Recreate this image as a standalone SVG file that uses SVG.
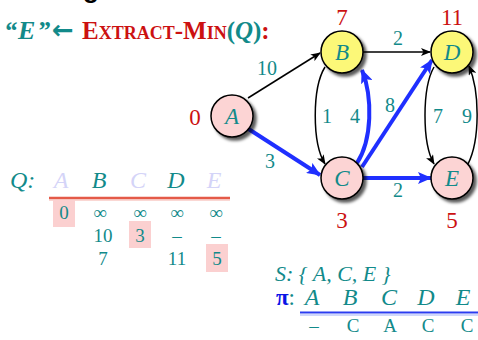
<svg xmlns="http://www.w3.org/2000/svg" width="478" height="340" viewBox="0 0 478 340">
<defs>
<filter id="sh" x="-30%" y="-30%" width="170%" height="170%">
<feDropShadow dx="3" dy="3" stdDeviation="1.6" flood-color="#000" flood-opacity="0.65"/>
</filter>
<marker id="ak" markerUnits="userSpaceOnUse" markerWidth="10" markerHeight="8" refX="9" refY="4" orient="auto">
<path d="M0,0 L10,4 L0,8 L2.5,4 Z" fill="#000"/>
</marker>
<marker id="ab" markerUnits="userSpaceOnUse" markerWidth="14" markerHeight="12" refX="13" refY="6" orient="auto">
<path d="M0,0 L14,6 L0,12 L3,6 Z" fill="#1f2fff"/>
</marker>
</defs>
<style>
.t{font-family:"Liberation Serif","Times New Roman",serif;fill:#128a8a}
.r{font-family:"Liberation Serif","Times New Roman",serif;fill:#cc1111;font-size:23px;text-anchor:middle}
.lbl{font-family:"Liberation Serif","Times New Roman",serif;fill:#128a8a;font-size:20px;text-anchor:middle}
.nl{font-family:"Liberation Serif","Times New Roman",serif;fill:#128a8a;font-size:23px;font-style:italic;text-anchor:middle}
.pink{fill:#fcd4d4;stroke:#000;stroke-width:1.5}
.yel{fill:#fcf878;stroke:#000;stroke-width:1.5}
.k{fill:none;stroke:#000;stroke-width:1.5}
.b{fill:none;stroke:#1f2fff;stroke-width:4}
.hl{fill:#fbd0d0}
.v{font-family:"Liberation Serif","Times New Roman",serif;fill:#128a8a;font-size:19px;text-anchor:middle}
.h{font-family:"Liberation Serif","Times New Roman",serif;font-size:24px;font-style:italic;text-anchor:middle}
</style>

<text x="83" y="-2" font-family="Liberation Sans,Arial,sans-serif" font-weight="bold" font-size="26" fill="#000">g</text>

<g id="title">
<text x="4" y="39" font-family="Liberation Serif,Times New Roman,serif" font-weight="bold" font-style="italic" font-size="26" fill="#128a8a">“<tspan dx="1">E</tspan><tspan dx="2">”</tspan></text>
<text x="52" y="39" font-family="DejaVu Sans,sans-serif" font-weight="bold" font-size="26" fill="#128a8a">←</text>
<text x="82" y="39" font-family="Liberation Serif,Times New Roman,serif" font-weight="bold" font-size="25"><tspan fill="#cc1111">E</tspan><tspan fill="#cc1111" font-size="18">XTRACT</tspan><tspan fill="#cc1111">-M</tspan><tspan fill="#cc1111" font-size="18">IN</tspan><tspan fill="#128a8a">(</tspan><tspan fill="#128a8a" font-style="italic">Q</tspan><tspan fill="#128a8a">)</tspan><tspan fill="#cc1111">:</tspan></text>
</g>

<g id="edges">
<path class="k" d="M248,98 L320,53" marker-end="url(#ak)"/>
<path class="k" d="M363,52 L430,52" marker-end="url(#ak)"/>
<path class="k" d="M325,67 C312,88 312,143 325,164" marker-end="url(#ak)"/>
<path class="k" d="M434,67 C422,88 422,143 434,164" marker-end="url(#ak)"/>
<path class="k" d="M468,164 C480,140 480,92 469,66" marker-end="url(#ak)"/>
<path class="b" d="M247,128 L320,175" marker-end="url(#ab)"/>
<path class="b" d="M357,163 C372,140 373,98 362,70" marker-end="url(#ab)"/>
<path class="b" d="M362,167 L432,60" marker-end="url(#ab)"/>
<path class="b" d="M363,178 L431,178" marker-end="url(#ab)"/>
<text class="lbl" x="267" y="75">10</text>
<text class="lbl" x="398" y="45">2</text>
<text class="lbl" x="327" y="123">1</text>
<text class="lbl" x="355" y="123">4</text>
<text class="lbl" x="390" y="112">8</text>
<text class="lbl" x="438" y="123">7</text>
<text class="lbl" x="467" y="123">9</text>
<text class="lbl" x="270" y="168">3</text>
<text class="lbl" x="398" y="197">2</text>
</g>

<g id="A"><circle class="pink" cx="232" cy="116" r="21" filter="url(#sh)"/><text class="nl" x="232" y="124">A</text><text class="r" x="195" y="125">0</text></g>
<g id="B"><circle class="yel" cx="342" cy="52" r="21" filter="url(#sh)"/><text class="nl" x="342" y="60">B</text><text class="r" x="342" y="25">7</text></g>
<g id="D"><circle class="yel" cx="452" cy="52" r="21" filter="url(#sh)"/><text class="nl" x="452" y="60">D</text><text class="r" x="452" y="25">11</text></g>
<g id="C"><circle class="pink" cx="342" cy="178" r="21" filter="url(#sh)"/><text class="nl" x="342" y="186">C</text><text class="r" x="342" y="228">3</text></g>
<g id="E"><circle class="pink" cx="452" cy="178" r="21" filter="url(#sh)"/><text class="nl" x="452" y="186">E</text><text class="r" x="452" y="228">5</text></g>

<g id="queue">
<text class="t" x="10" y="188" font-size="24" font-style="italic">Q:</text>
<text class="h" x="61" y="188" fill="#d4d4f8">A</text>
<text class="h" x="99" y="188" fill="#128a8a">B</text>
<text class="h" x="138" y="188" fill="#d4d4f8">C</text>
<text class="h" x="176" y="188" fill="#128a8a">D</text>
<text class="h" x="214" y="188" fill="#d4d4f8">E</text>
<line x1="49" y1="198" x2="230" y2="198" stroke="#e45a48" stroke-width="2.5"/>
<line x1="49" y1="200" x2="230" y2="200" stroke="#f6b0a8" stroke-width="1"/>
<rect class="hl" x="53" y="200" width="22" height="27"/>
<rect class="hl" x="129" y="221" width="22" height="27"/>
<rect class="hl" x="206" y="244" width="22" height="28"/>
<text class="v" x="64" y="219">0</text>
<text class="v" x="100" y="219">∞</text>
<text class="v" x="140" y="219">∞</text>
<text class="v" x="177" y="219">∞</text>
<text class="v" x="216" y="219">∞</text>
<text class="v" x="103" y="242">10</text>
<text class="v" x="140" y="242">3</text>
<text class="v" x="177" y="242">–</text>
<text class="v" x="216" y="242">–</text>
<text class="v" x="103" y="265">7</text>
<text class="v" x="177" y="265">11</text>
<text class="v" x="217" y="265">5</text>
</g>

<g id="result">
<text class="t" x="275" y="281" font-size="22" font-style="italic">S: { A, C, E }</text>
<text x="276" y="305" font-family="Liberation Serif,Times New Roman,serif" font-size="23"><tspan fill="#0a14e6" font-weight="bold">π</tspan><tspan fill="#128a8a">:</tspan></text>
<text class="h" x="312" y="305" fill="#128a8a" font-size="23">A</text>
<text class="h" x="350" y="305" fill="#128a8a" font-size="23">B</text>
<text class="h" x="389" y="305" fill="#128a8a" font-size="23">C</text>
<text class="h" x="426" y="305" fill="#128a8a" font-size="23">D</text>
<text class="h" x="463" y="305" fill="#128a8a" font-size="23">E</text>
<line x1="300" y1="312.5" x2="478" y2="312.5" stroke="#2a3cf0" stroke-width="2"/>
<line x1="300" y1="315" x2="478" y2="315" stroke="#9fb0f8" stroke-width="1.2"/>
<text class="v" x="314" y="332" font-size="18">–</text>
<text class="v" x="353" y="332" font-size="18">C</text>
<text class="v" x="390" y="332" font-size="18">A</text>
<text class="v" x="428" y="332" font-size="18">C</text>
<text class="v" x="467" y="332" font-size="18">C</text>
</g>
</svg>
